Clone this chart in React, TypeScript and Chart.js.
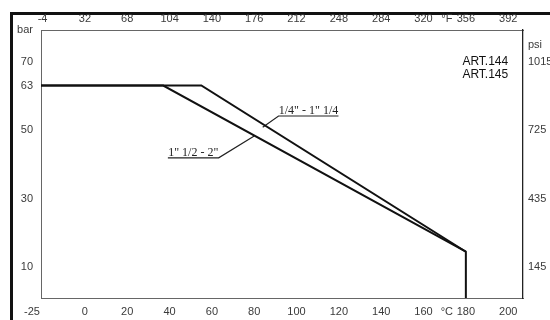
import { useEffect, useRef } from "react";
import { Chart, registerables } from "chart.js";

Chart.register(...registerables);

// ---- data ----
// 1/4" - 1" 1/4 : flat at 63 bar, then derated to 180 °C, then drop
const smallTemp = [-25, 55, 180, 180];
const smallBar = [63, 63, 14.5, 0];
// 1" 1/2 - 2"
const largeTemp = [-25, 37, 180];
const largeBar = [63, 63, 14.5];

// underline + leader of the annotation labels (°C, bar)
const leaderSmallTemp = [119.8, 91.5, 84];
const leaderSmallBar = [54.1, 54.1, 50.8];
const leaderLargeTemp = [39.2, 63.2, 80];
const leaderLargeBar = [41.9, 41.9, 48.3];

const labelSmall = '1/4" - 1" 1/4';
const labelLarge = '1" 1/2 - 2"';
const modelLabels = ["ART.144", "ART.145"];

const celsiusTicks = [-25, 0, 20, 40, 60, 80, 100, 120, 140, 160, 180, 200];
const fahrenheitTicks = [-4, 32, 68, 104, 140, 176, 212, 248, 284, 320, 356, 392];
const barTicks = [10, 30, 50, 63, 70];
const psiTicks = [145, 435, 725, 1015];

const C_MIN = -20.75;
const C_MAX = 207;
const BAR_MIN = 1;
const BAR_MAX = 79.2;
const C_UNIT_AT = 171; // where "°C" / "°F" sit on the axes
const PSI_UNIT_AT = 1085; // where "psi" sits on the axis

const toPts = (xs: number[], ys: number[]) => xs.map((x, i) => ({ x, y: ys[i] }));
const cToF = (c: number) => c * 1.8 + 32;

const TICK_FONT = { family: '"Liberation Sans", Arial, sans-serif', size: 11 };
const TICK_COLOR = "#3a3a3a";

const annotPlugin = {
  id: "annot",
  afterDatasetsDraw(chart: any) {
    const { ctx, scales } = chart;
    const x = scales.x;
    const y = scales.y;
    ctx.save();
    // model names
    ctx.font = '12px "Liberation Sans", Arial, sans-serif';
    ctx.fillStyle = "#111";
    ctx.textAlign = "right";
    ctx.textBaseline = "middle";
    ctx.fillText(modelLabels[0], x.getPixelForValue(200), y.getPixelForValue(69.9));
    ctx.fillText(modelLabels[1], x.getPixelForValue(200), y.getPixelForValue(66.1));
    // size labels above their underline
    ctx.font = '12px "Liberation Serif", "Times New Roman", serif';
    ctx.fillStyle = "#222";
    ctx.textAlign = "center";
    ctx.textBaseline = "alphabetic";
    const midS = (leaderSmallTemp[0] + leaderSmallTemp[1]) / 2;
    ctx.fillText(labelSmall, x.getPixelForValue(midS), y.getPixelForValue(leaderSmallBar[0]) - 2);
    const midL = (leaderLargeTemp[0] + leaderLargeTemp[1]) / 2;
    ctx.fillText(labelLarge, x.getPixelForValue(midL), y.getPixelForValue(leaderLargeBar[0]) - 2);
    ctx.restore();
  },
};

export default function App() {
  const ref = useRef<HTMLCanvasElement | null>(null);

  useEffect(() => {
    if (!ref.current) return;
    const lineStyle = {
      borderColor: "#111",
      borderWidth: 2,
      pointRadius: 0,
      tension: 0,
      fill: false,
    };
    const leaderStyle = {
      borderColor: "#222",
      borderWidth: 1.2,
      pointRadius: 0,
      tension: 0,
      fill: false,
    };
    const noGrid = { display: false, drawTicks: false };
    const chart = new Chart(ref.current, {
      type: "line",
      data: {
        datasets: [
          { label: labelSmall, data: toPts(smallTemp, smallBar), ...lineStyle },
          { label: labelLarge, data: toPts(largeTemp, largeBar), ...lineStyle },
          { label: "leaderS", data: toPts(leaderSmallTemp, leaderSmallBar), ...leaderStyle },
          { label: "leaderL", data: toPts(leaderLargeTemp, leaderLargeBar), ...leaderStyle },
        ],
      },
      options: {
        animation: false,
        responsive: false,
        layout: { padding: 0 },
        plugins: { legend: { display: false }, tooltip: { enabled: false } },
        scales: {
          x: {
            type: "linear",
            position: "bottom",
            min: C_MIN,
            max: C_MAX,
            grid: noGrid,
            border: { display: true, color: "#666", width: 1, dash: [2, 1] },
            afterBuildTicks: (s: any) => {
              const vals = [...celsiusTicks, C_UNIT_AT].sort((a, b) => a - b);
              s.ticks = vals.map((v) => ({ value: v }));
            },
            afterFit: (s: any) => {
              s.height = 22;
            },
            ticks: {
              autoSkip: false,
              maxRotation: 0,
              padding: 7,
              font: TICK_FONT,
              color: TICK_COLOR,
              callback: (v: any) => (v === C_UNIT_AT ? "°C" : String(v)),
            },
          },
          x2: {
            type: "linear",
            position: "top",
            min: cToF(C_MIN),
            max: cToF(C_MAX),
            grid: noGrid,
            border: { display: true, color: "#666", width: 1, dash: [2, 1] },
            afterBuildTicks: (s: any) => {
              const vals = [...fahrenheitTicks, cToF(C_UNIT_AT)].sort((a, b) => a - b);
              s.ticks = vals.map((v) => ({ value: v }));
            },
            afterFit: (s: any) => {
              s.height = 30;
            },
            ticks: {
              autoSkip: false,
              maxRotation: 0,
              padding: 4,
              font: TICK_FONT,
              color: TICK_COLOR,
              callback: (v: any) => (v === cToF(C_UNIT_AT) ? "°F" : String(v)),
            },
          },
          y: {
            type: "linear",
            position: "left",
            min: BAR_MIN,
            max: BAR_MAX,
            grid: noGrid,
            border: { display: true, color: "#666", width: 1, dash: [2, 1] },
            afterBuildTicks: (s: any) => {
              s.ticks = [...barTicks, BAR_MAX].map((v) => ({ value: v }));
            },
            afterFit: (s: any) => {
              s.width = 41;
            },
            ticks: {
              autoSkip: false,
              padding: 8,
              font: TICK_FONT,
              color: TICK_COLOR,
              callback: (v: any) => (v === BAR_MAX ? "bar" : String(v)),
            },
          },
          y2: {
            type: "linear",
            position: "right",
            min: BAR_MIN * 14.5,
            max: BAR_MAX * 14.5,
            grid: noGrid,
            border: { display: true, color: "#222", width: 1.3 },
            afterBuildTicks: (s: any) => {
              s.ticks = [...psiTicks, PSI_UNIT_AT].map((v) => ({ value: v }));
            },
            afterFit: (s: any) => {
              s.width = 27;
            },
            ticks: {
              autoSkip: false,
              padding: 5,
              font: TICK_FONT,
              color: TICK_COLOR,
              callback: (v: any) => (v === PSI_UNIT_AT ? "psi" : String(v)),
            },
          },
        },
      },
      plugins: [annotPlugin],
    });
    return () => chart.destroy();
  }, []);

  return (
    <div style={{ position: "absolute", left: 0, top: 0, width: 550, height: 320, background: "#fff", overflow: "hidden" }}>
      <div
        style={{
          position: "absolute",
          left: 10,
          top: 12,
          right: 0,
          bottom: 0,
          borderLeft: "3px solid #111",
          borderTop: "3px solid #111",
        }}
      />
      <canvas ref={ref} width={550} height={320} style={{ position: "absolute", left: 0, top: 0 }} />
    </div>
  );
}
